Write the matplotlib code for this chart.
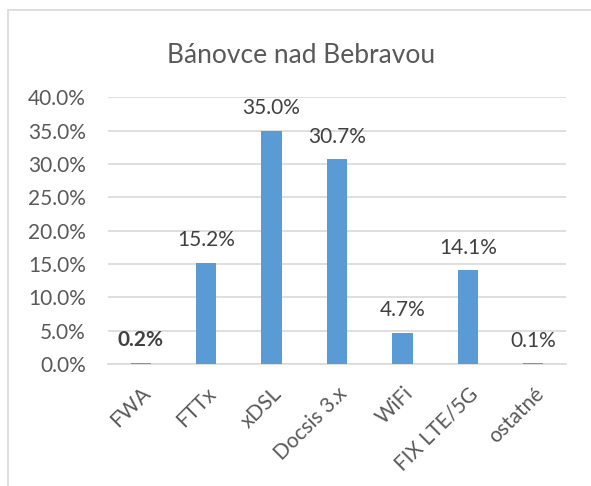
import matplotlib.pyplot as plt
from matplotlib.patches import Rectangle
from matplotlib.ticker import PercentFormatter

# chart data
categories = ["FWA", "FTTx", "xDSL", "Docsis 3.x", "WiFi", "FIX LTE/5G", "ostatné"]
shares = [0.2, 15.2, 35.0, 30.7, 4.7, 14.1, 0.1]
bold_labels = ["FWA"]
title = "Bánovce nad Bebravou"

plt.rcParams['font.family'] = ['Lato', 'DejaVu Sans']
text_col = "#595959"
grid_col = "#d9d9d9"

fig = plt.figure(figsize=(5.91, 4.86), dpi=100)
ax = fig.add_axes([0.1827, 0.251, 0.775, 0.5484])

# outer chart frame (cut off at right and bottom)
fig.patches.append(Rectangle((8 / 591, -0.1), 1.0, 1.0 - 10 / 486 + 0.1,
                             transform=fig.transFigure, fill=False,
                             edgecolor=grid_col, lw=1.2))

x = range(len(categories))
ax.bar(x, shares, width=0.31, color="#5B9BD5", zorder=3)

for i, (c, v) in enumerate(zip(categories, shares)):
    ax.annotate(f"{v:.1f}%", (i, v), xytext=(0, 9), textcoords="offset points",
                ha="center", va="bottom", fontsize=15, color="#404040",
                fontweight="bold" if c in bold_labels else "normal")

ax.set_ylim(0, 40)
ax.set_xlim(-0.5, len(categories) - 0.5)
ax.set_yticks(range(0, 41, 5))
ax.yaxis.set_major_formatter(PercentFormatter(decimals=1))
ax.grid(axis="y", color=grid_col, lw=1.2, zorder=0)
for s in ["top", "right", "left"]:
    ax.spines[s].set_visible(False)
ax.spines["bottom"].set_color(grid_col)
ax.spines["bottom"].set_linewidth(1.2)

ax.set_xticks(list(x))
ax.set_xticklabels(categories, rotation=45, ha="right", rotation_mode="anchor")
ax.tick_params(axis="both", length=0, labelsize=15, labelcolor=text_col)
ax.tick_params(axis="y", pad=16)
ax.tick_params(axis="x", pad=14)

fig.text(0.51, 0.885, title, ha="center", va="center", fontsize=19, color=text_col)

fig.savefig("out.png", dpi=100)
